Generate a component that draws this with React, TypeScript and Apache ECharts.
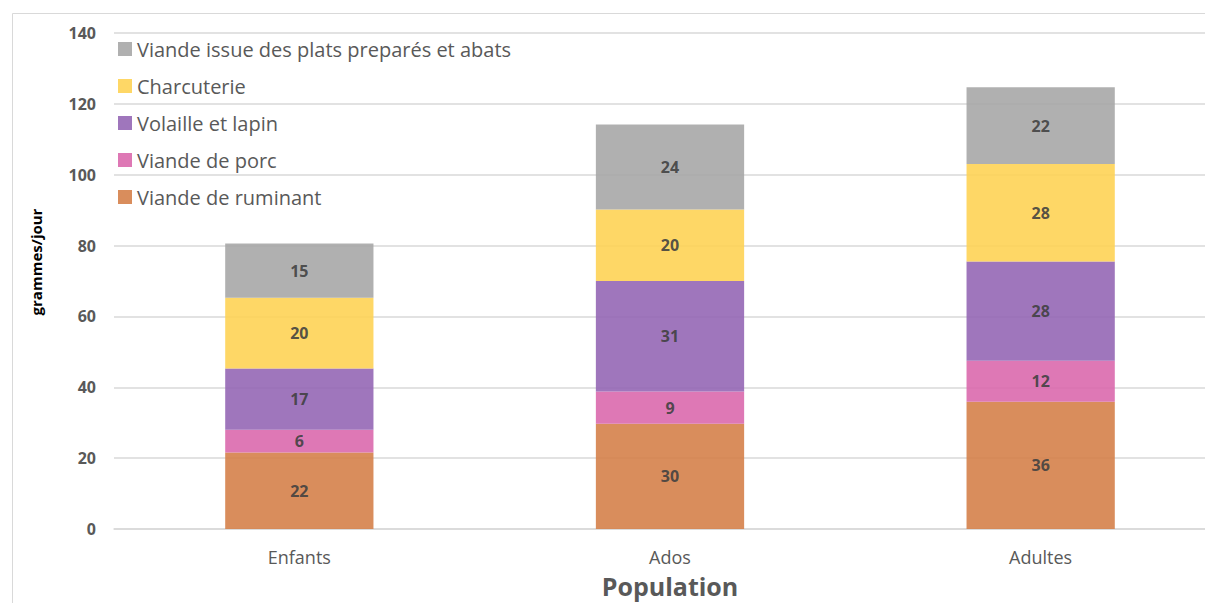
import React, { useEffect, useRef } from "react";
import * as echarts from "echarts";

const categories = ["Enfants", "Ados", "Adultes"];
const seriesNames = [
  "Viande de ruminant",
  "Viande de porc",
  "Volaille et lapin",
  "Charcuterie",
  "Viande issue des plats preparés et abats",
];
const ruminant = [21.6, 29.7, 35.9];
const porc = [6.4, 9.1, 11.6];
const volaille = [17.3, 31.2, 28.0];
const charcuterie = [20.0, 20.2, 27.5];
const platsAbats = [15.3, 24.0, 21.7];
const colors = ["#d5814a", "#da69ad", "#9567b5", "#fed355", "#a7a7a7"];
const yTicks = { min: 0, max: 140, interval: 20 };
const yAxisTitle = "grammes/jour";

const FONT = "Open Sans";

export default function App() {
  const ref = useRef<HTMLDivElement>(null);
  useEffect(() => {
    if (!ref.current) return;
    const chart = echarts.init(ref.current, undefined, { renderer: "svg" });
    const values = [ruminant, porc, volaille, charcuterie, platsAbats];
    chart.setOption({
      animation: false,
      textStyle: { fontFamily: FONT },
      graphic: [
        {
          type: "rect",
          shape: { x: 4.5, y: 5.5, width: 1400, height: 800 },
          style: { fill: "none", stroke: "#d9d9d9", lineWidth: 1 },
          silent: true,
        },
        {
          type: "text",
          x: 28,
          y: 254,
          rotation: Math.PI / 2,
          style: {
            text: yAxisTitle,
            fontSize: 15,
            fontWeight: "bold",
            fill: "#000",
            fontFamily: FONT,
            align: "center",
            verticalAlign: "middle",
          },
          silent: true,
        },
      ],
      legend: {
        orient: "vertical",
        left: 105,
        top: 26,
        itemWidth: 14,
        itemHeight: 14,
        itemGap: 17,
        icon: "rect",
        data: [...seriesNames].reverse(),
        textStyle: { fontSize: 20, color: "#595959", fontFamily: FONT },
      },
      grid: { left: 106, right: 12, top: 25, bottom: 74 },
      xAxis: {
        type: "category",
        data: categories,
        name: "Population",
        nameLocation: "middle",
        nameGap: 44,
        nameTextStyle: { fontSize: 25, fontWeight: "bold", color: "#595959", fontFamily: FONT },
        axisLine: { lineStyle: { color: "#d9d9d9", width: 1.5 } },
        axisTick: { show: false },
        axisLabel: { fontSize: 18, color: "#595959", margin: 19, fontFamily: FONT },
      },
      yAxis: {
        type: "value",
        min: yTicks.min,
        max: yTicks.max,
        interval: yTicks.interval,
        axisLine: { show: false },
        axisTick: { show: false },
        axisLabel: { fontSize: 16, fontWeight: "bold", color: "#595959", margin: 18, fontFamily: FONT },
        splitLine: { lineStyle: { color: "#d9d9d9", width: 1.5 } },
      },
      series: seriesNames.map((name, i) => ({
        name,
        type: "bar",
        stack: "total",
        barWidth: "40%",
        data: values[i],
        itemStyle: { color: colors[i], opacity: 0.9 },
        label: {
          show: true,
          position: "inside",
          fontSize: 16,
          fontWeight: "bold",
          color: "#404040",
          fontFamily: FONT,
          formatter: (p: any) => String(Math.round(p.value)),
        },
      })),
    });
    return () => chart.dispose();
  }, []);
  return (
    <div style={{ width: 1205, height: 595, overflow: "hidden" }}>
      <div ref={ref} style={{ width: 1230, height: 595 }} />
    </div>
  );
}
